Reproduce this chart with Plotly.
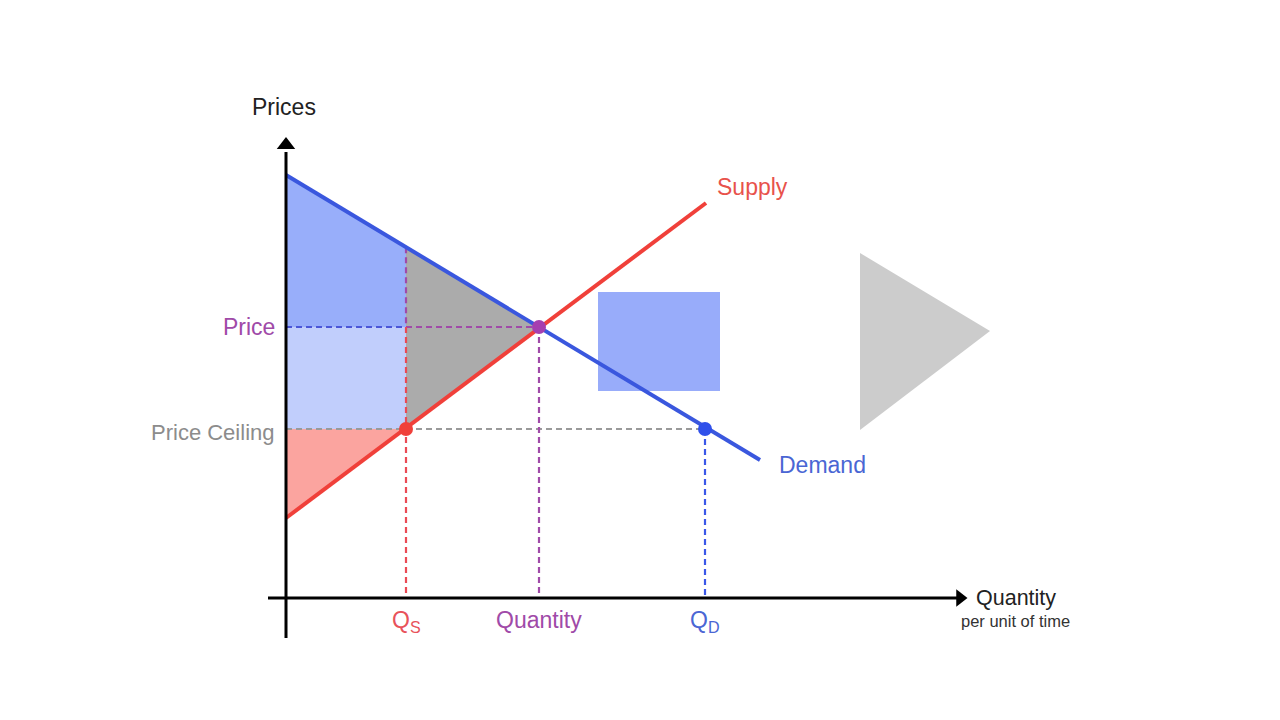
import numpy as np
import plotly.graph_objects as go

# ---------------- data (quantity / price units) ----------------
demand_q = [0, 474]
demand_p = [423, 138]
supply_q = [0, 420]
supply_p = [80, 395]

q_s = 120          # quantity supplied at the ceiling
q_eq = 253         # equilibrium quantity
q_d = 419          # quantity demanded at the ceiling
p_eq = 271         # equilibrium price
p_ceiling = 169    # price ceiling

# overlay decorations
rect_q = [312, 434]
rect_p = [207, 306]
tri_q = [574, 574, 704]
tri_p = [345, 168, 267]

x_range = [-278, 1002]
y_range = [-130, 590]

def D(q):
    return float(np.interp(q, demand_q, demand_p))

def S(q):
    return float(np.interp(q, supply_q, supply_p))

C_DEM = "#3a57de"
C_SUP = "#f0403a"
C_PUR = "#a04aa8"
C_GRY = "#9a9a9a"

fig = go.Figure()

def poly(xs, ys, color):
    fig.add_trace(go.Scatter(x=xs + [xs[0]], y=ys + [ys[0]], fill="toself",
                             fillcolor=color, line=dict(width=0), mode="lines",
                             hoverinfo="skip", showlegend=False))

# consumer surplus (dark blue)
poly([0, q_s, q_s, 0], [D(0), D(q_s), p_eq, p_eq], "#98aefa")
# transfer rectangle (light blue)
poly([0, q_s, q_s, 0], [p_eq, p_eq, p_ceiling, p_ceiling], "#c1cefc")
# deadweight loss (grey)
poly([q_s, q_eq, q_s], [D(q_s), p_eq, S(q_s)], "#ababab")
# producer surplus (red)
poly([0, q_s, 0], [p_ceiling, p_ceiling, S(0)], "#fba49f")

# decorations
poly([rect_q[0], rect_q[1], rect_q[1], rect_q[0]],
     [rect_p[0], rect_p[0], rect_p[1], rect_p[1]], "#98acfa")
poly(tri_q, tri_p, "#cccccc")

def dline(xs, ys, color):
    fig.add_trace(go.Scatter(x=xs, y=ys, mode="lines",
                             line=dict(color=color, width=2.2, dash="6px,4px"),
                             hoverinfo="skip", showlegend=False))

dline([0, q_s], [p_eq, p_eq], "#4a55d8")
dline([q_s, q_eq], [p_eq, p_eq], C_PUR)
dline([q_s, q_s], [D(q_s), p_eq], C_PUR)
dline([q_s, q_s], [p_eq, 0], "#ea4a55")
dline([0, q_d], [p_ceiling, p_ceiling], C_GRY)
dline([q_eq, q_eq], [p_eq, 0], C_PUR)
dline([q_d, q_d], [p_ceiling, 0], "#3a57e8")

# curves
fig.add_trace(go.Scatter(x=demand_q, y=demand_p, mode="lines",
                         line=dict(color=C_DEM, width=4), hoverinfo="skip", showlegend=False))
fig.add_trace(go.Scatter(x=supply_q, y=supply_p, mode="lines",
                         line=dict(color=C_SUP, width=4), hoverinfo="skip", showlegend=False))

# points
fig.add_trace(go.Scatter(x=[q_s, q_eq, q_d], y=[p_ceiling, p_eq, p_ceiling], mode="markers",
                         marker=dict(size=14, color=[C_SUP, "#a53fb0", "#2f50ea"]),
                         hoverinfo="skip", showlegend=False))

# axes
fig.add_shape(type="line", x0=0, x1=0, y0=-40, y1=446, line=dict(color="black", width=3))
fig.add_shape(type="line", x0=-18, x1=672, y0=0, y1=0, line=dict(color="black", width=3))
fig.add_trace(go.Scatter(x=[0], y=[453], mode="markers",
                         marker=dict(symbol="triangle-up", size=16, color="black"),
                         hoverinfo="skip", showlegend=False))
fig.add_trace(go.Scatter(x=[674], y=[0], mode="markers",
                         marker=dict(symbol="triangle-right", size=15, color="black"),
                         hoverinfo="skip", showlegend=False))

FONT = "Liberation Sans, Helvetica, Arial, sans-serif"

def label(x, y, text, color, size=23, xanchor="center"):
    fig.add_annotation(x=x, y=y, text=text, showarrow=False, xanchor=xanchor, yanchor="middle",
                       font=dict(family=FONT, size=size, color=color))

label(-2, 491, "Prices", "#222222", 23)
label(466, 411, "Supply", "#e8524b", 23)
label(536, 133, "Demand", "#4a66d4", 23)
label(-9, 271, "Price", C_PUR, 23, "right")
label(-9, 166, "Price Ceiling", "#8c8c8c", 22, "right")
label(q_s, -23, "Q<sub>S</sub>", "#e8525a", 23)
label(q_eq, -22, "Quantity", C_PUR, 23)
label(q_d, -23, "Q<sub>D</sub>", "#4a66d4", 23)
label(730, 0, "Quantity", "#222222", 21.5)
label(729, -23, "per unit of time", "#333333", 16.5)

fig.update_layout(
    width=1280, height=720,
    margin=dict(l=0, r=0, t=0, b=0),
    paper_bgcolor="white", plot_bgcolor="white",
    xaxis=dict(range=x_range, visible=False, fixedrange=True),
    yaxis=dict(range=y_range, visible=False, fixedrange=True),
    showlegend=False,
)

fig.write_html("out.html")
